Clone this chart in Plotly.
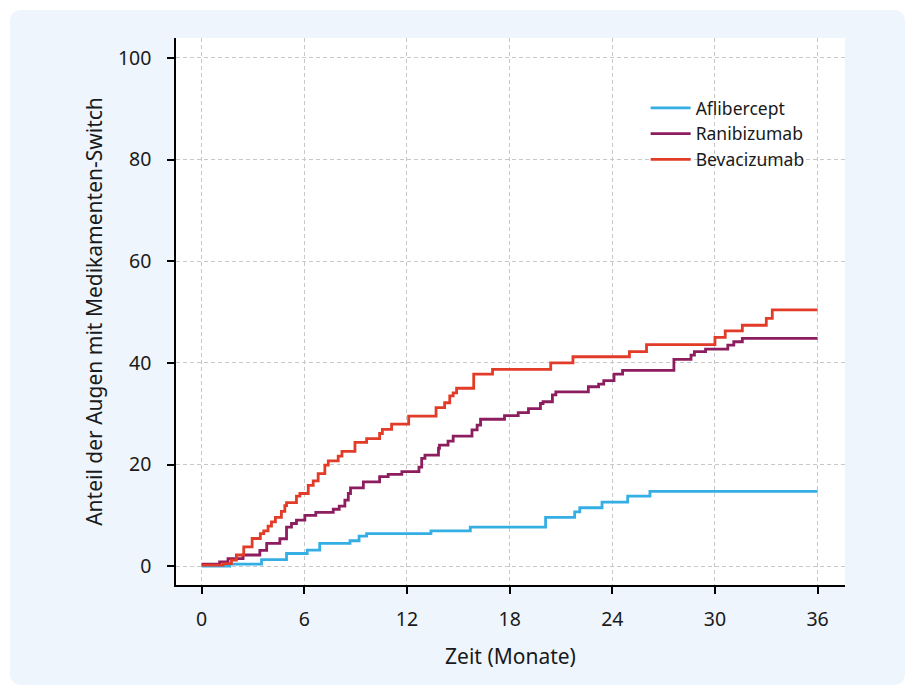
import plotly.graph_objects as go

# Aflibercept
afl_x = [0, 1.64, 3.5, 4.96, 6.17, 6.9, 8.67, 9.2, 9.64, 13.4, 15.7, 20.1, 21.8, 22.1, 23.4, 24.9, 26.2, 36]
afl_y = [0, 0.4, 1.3, 2.5, 3.15, 4.5, 5.0, 5.9, 6.4, 6.95, 7.7, 9.6, 10.7, 11.5, 12.6, 13.8, 14.7, 14.7]

# Ranibizumab
ran_x = [0, 1.05, 1.54, 2.42, 3.4, 3.8, 4.57, 4.96, 5.25, 5.54, 6.03, 6.67, 7.69, 8.04, 8.37, 8.57, 8.7,
         9.45, 10.4, 10.9, 11.7, 12.7, 12.86, 13.05, 13.84, 13.9, 14.4, 14.7, 15.8, 16.1, 16.3, 17.7, 18.5,
         19.1, 19.8, 19.95, 20.5, 20.7, 22.6, 23.2, 23.5, 24.1, 24.6, 27.6, 28.6, 28.8, 29.45, 30.75, 31.1,
         31.6, 36]
ran_y = [0.4, 0.85, 1.5, 2.2, 3.1, 4.5, 5.4, 7.7, 8.4, 9.05, 10.0, 10.6, 11.2, 11.8, 13.0, 14.3, 15.4,
         16.6, 17.6, 18.05, 18.6, 19.5, 21.2, 21.85, 23.2, 23.8, 24.6, 25.6, 26.8, 27.75, 28.9, 29.6, 30.2,
         31.0, 32.0, 32.35, 33.7, 34.3, 35.3, 35.8, 36.5, 37.8, 38.5, 40.7, 41.5, 42.2, 42.7, 43.5, 44.15,
         44.8, 44.8]

# Bevacizumab
bev_x = [0, 1.25, 1.74, 2.03, 2.46, 2.95, 3.43, 3.63, 3.88, 4.08, 4.31, 4.66, 4.86, 4.96, 5.54, 5.74,
         6.23, 6.52, 6.81, 7.2, 7.4, 7.98, 8.2, 8.96, 9.64, 10.4, 10.56, 11.1, 12.1, 13.7, 14.2, 14.5,
         14.7, 14.9, 15.9, 17.0, 20.4, 21.7, 25.0, 26.0, 30.0, 30.6, 31.6, 33.0, 33.35, 36]
bev_y = [0.2, 0.5, 1.2, 2.2, 3.8, 5.45, 6.4, 6.95, 7.9, 8.7, 9.6, 10.8, 11.9, 12.5, 13.8, 14.3,
         15.9, 16.8, 18.2, 19.9, 20.7, 21.65, 22.6, 24.35, 25.1, 26.1, 26.9, 27.95, 29.5, 31.2, 32.15, 33.5,
         34.1, 35.0, 37.8, 38.7, 40.0, 41.2, 42.2, 43.6, 45.0, 46.3, 47.4, 48.75, 50.4, 50.4]

series = [
    ("Aflibercept", afl_x, afl_y, "#35aee3"),
    ("Ranibizumab", ran_x, ran_y, "#8c1d5f"),
    ("Bevacizumab", bev_x, bev_y, "#e23b28"),
]

x_ticks = [0, 6, 12, 18, 24, 30, 36]
y_ticks = [0, 20, 40, 60, 80, 100]

FONT = "Noto Sans"

fig = go.Figure()
for name, xs, ys, col in series:
    fig.add_trace(go.Scatter(x=xs, y=ys, mode="lines", name=name,
                             line=dict(color=col, width=2.8, shape="hv")))

# background panel with rounded corners (paper coords)
x0, x1 = -0.2481, 1.0897
y0, y1 = -0.1828, 1.0512
rx, ry = 12 / 669, 12 / 547
path = (f"M {x0+rx},{y0} L {x1-rx},{y0} Q {x1},{y0} {x1},{y0+ry} "
        f"L {x1},{y1-ry} Q {x1},{y1} {x1-rx},{y1} "
        f"L {x0+rx},{y1} Q {x0},{y1} {x0},{y1-ry} "
        f"L {x0},{y0+ry} Q {x0},{y0} {x0+rx},{y0} Z")
fig.add_shape(type="path", path=path, xref="paper", yref="paper",
              fillcolor="#eef5fc", line=dict(width=0), layer="below")
fig.add_shape(type="rect", x0=0, x1=1, y0=0, y1=1, xref="paper", yref="paper",
              fillcolor="white", line=dict(width=0), layer="below")

fig.update_layout(
    width=907, height=685,
    margin=dict(l=168, r=70, t=30, b=108),
    paper_bgcolor="white",
    plot_bgcolor="rgba(0,0,0,0)",
    font=dict(family=FONT, size=19.5, color="#1a1a1a"),
    showlegend=True,
    legend=dict(x=0.702, y=0.905, xanchor="left", yanchor="top",
                bgcolor="rgba(0,0,0,0)", font=dict(size=17.5),
                tracegroupgap=0, itemwidth=40),
    xaxis=dict(range=[-1.5, 37.6], tickvals=x_ticks, ticktext=[str(v) for v in x_ticks],
               showgrid=True, gridcolor="#c8c8c8", griddash="4px,3px", gridwidth=1,
               zeroline=False, showline=True, linecolor="black", linewidth=1.5,
               ticks="outside", ticklen=7, tickcolor="black", tickwidth=1.5,
               ticklabelstandoff=9, tickfont=dict(size=19.5),
               title=dict(text="Zeit (Monate)", font=dict(size=21), standoff=18)),
    yaxis=dict(range=[-3.7, 103.9], tickvals=y_ticks, ticktext=[str(v) for v in y_ticks],
               showgrid=True, gridcolor="#c8c8c8", griddash="4px,3px", gridwidth=1,
               zeroline=False, showline=True, linecolor="black", linewidth=1.5,
               ticks="outside", ticklen=7, tickcolor="black", tickwidth=1.5,
               ticklabelstandoff=12, tickfont=dict(size=19.5),
               title=dict(text="Anteil der Augen mit Medikamenten-Switch", font=dict(size=21),
                          standoff=10)),
)

fig.write_html("out.html")
